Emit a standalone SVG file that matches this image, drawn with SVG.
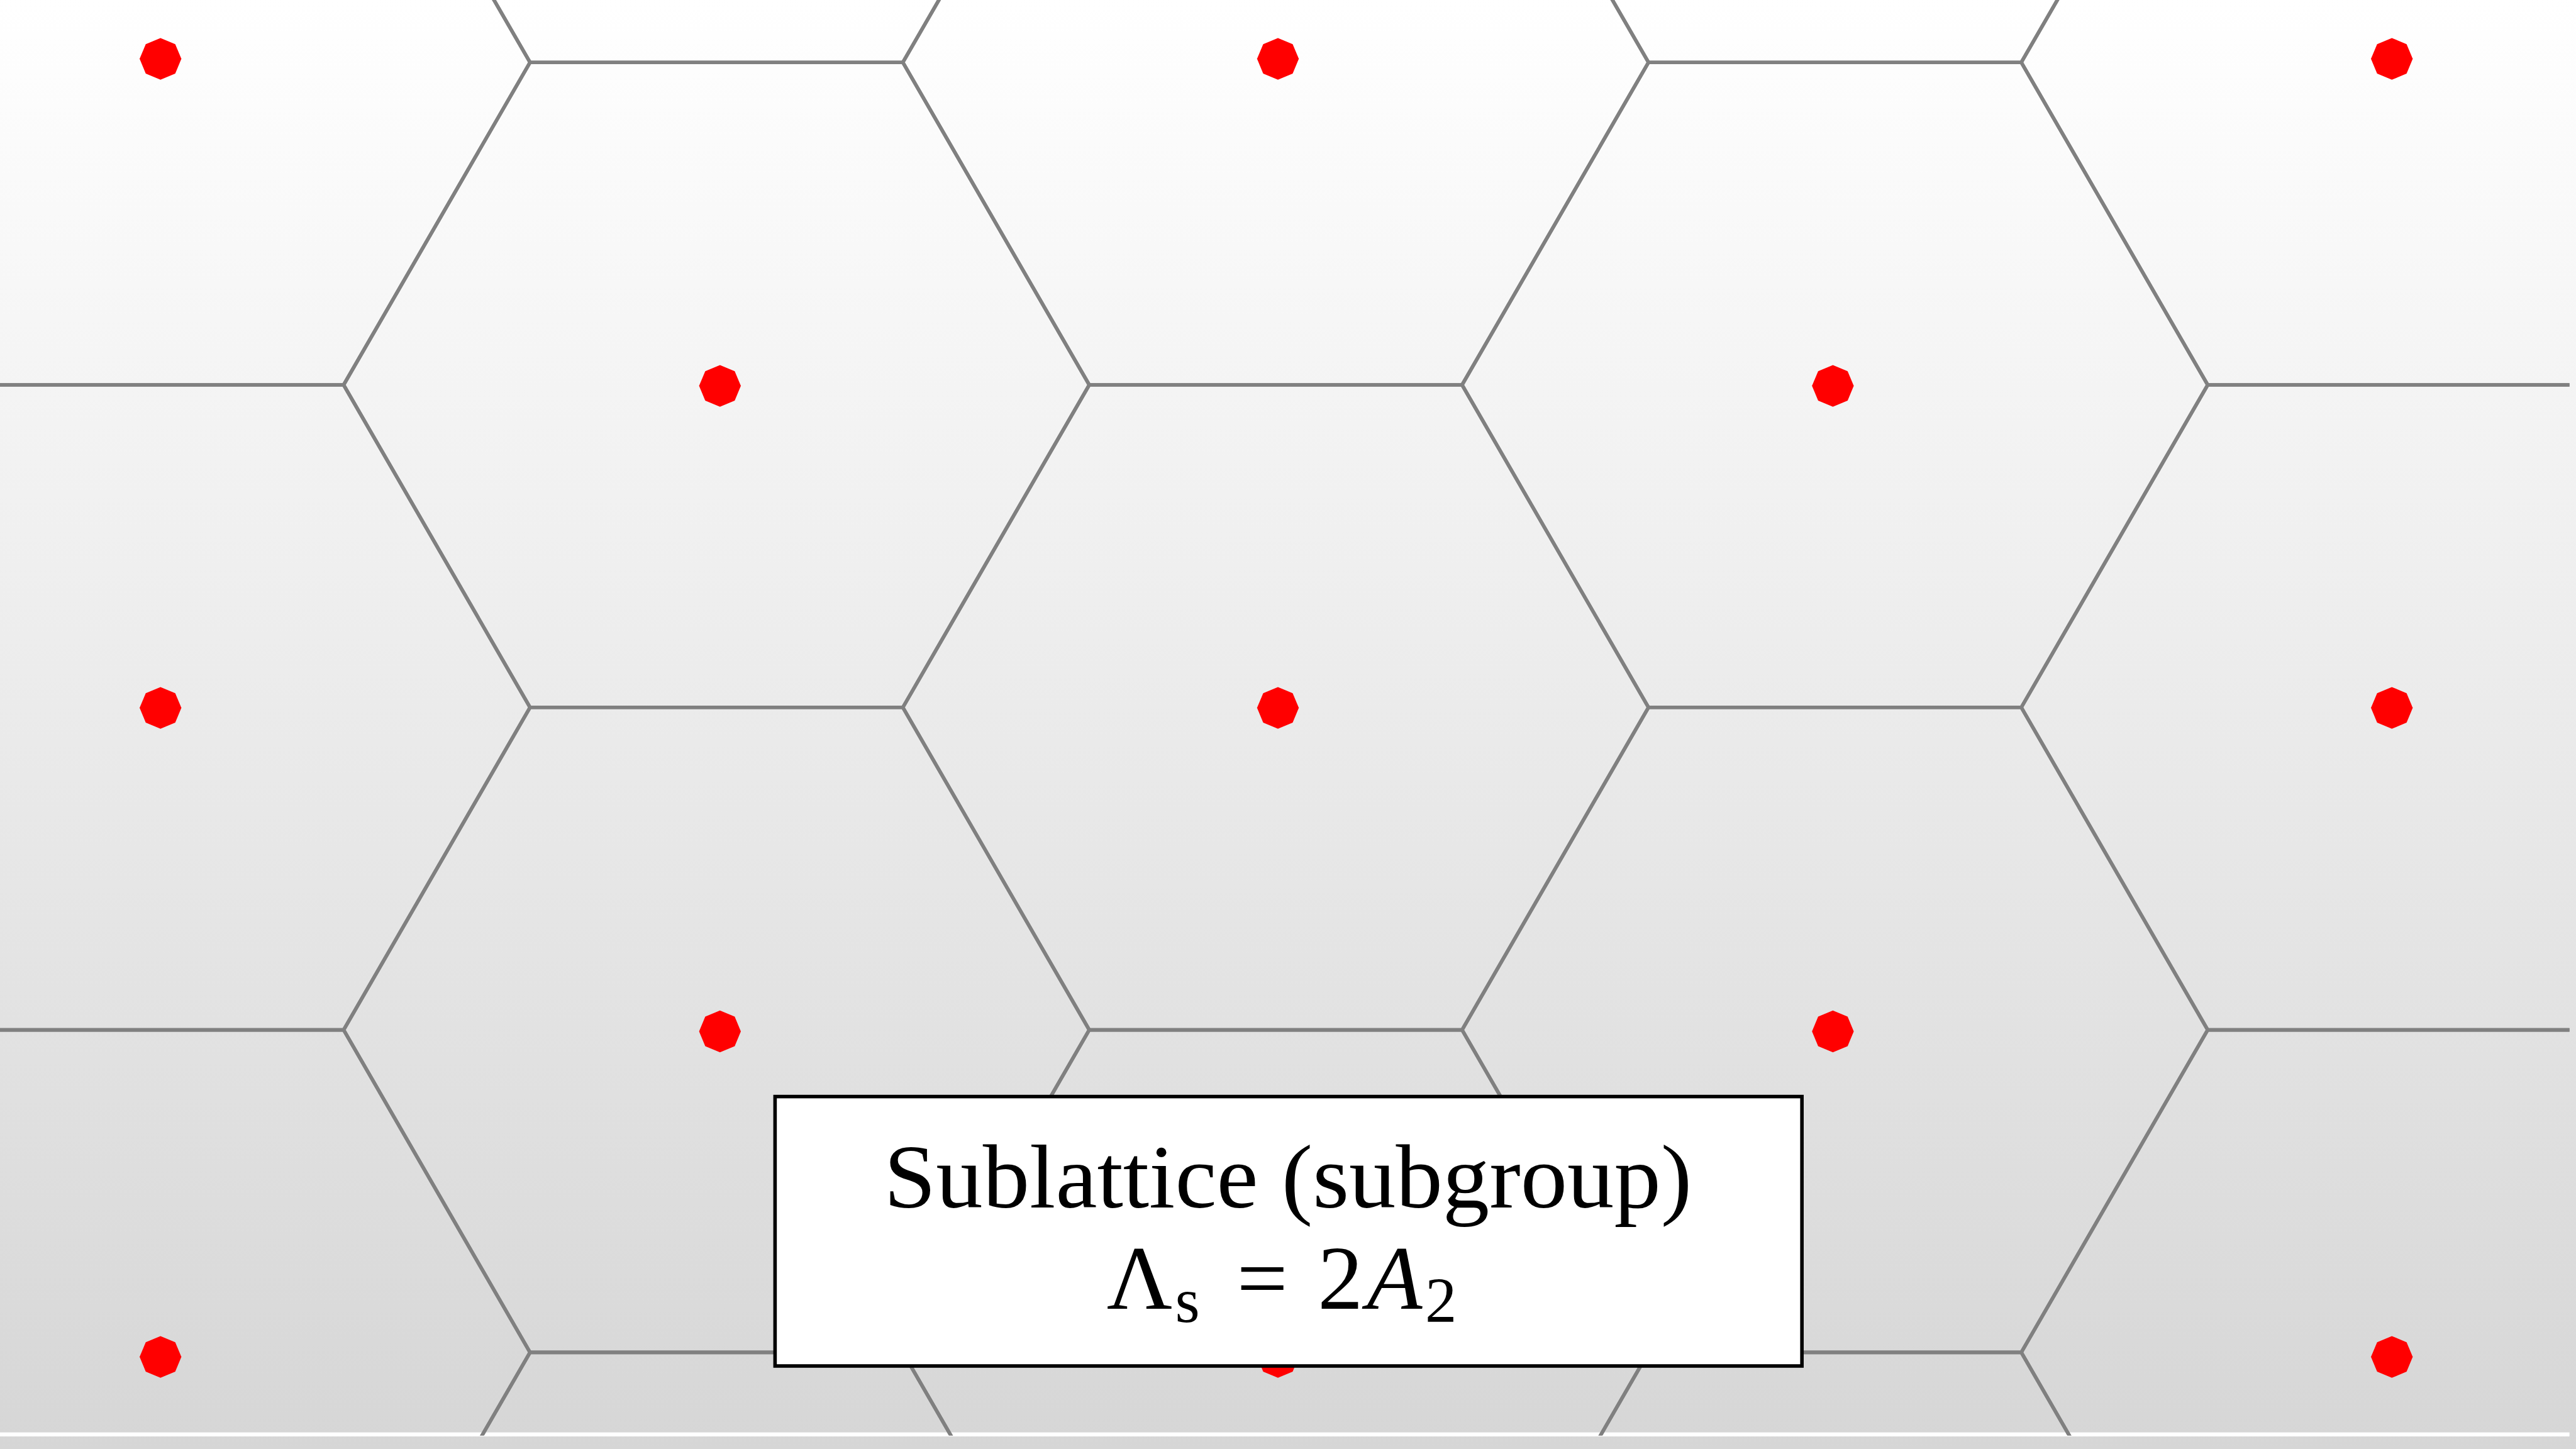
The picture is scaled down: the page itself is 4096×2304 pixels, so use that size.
<svg xmlns="http://www.w3.org/2000/svg" xmlns:xlink="http://www.w3.org/1999/xlink" width="4096" height="2304" viewBox="0 0 4096 2304">
<defs>
<linearGradient id="bg" gradientUnits="userSpaceOnUse" x1="0" y1="0" x2="0" y2="2880">
<stop offset="0" stop-color="#ffffff"/>
<stop offset="1" stop-color="#d6d6d6"/>
</linearGradient>
<clipPath id="clip"><rect x="0" y="0" width="5107" height="2853"/></clipPath>
<polygon id="hex" points="-741,0 -370.5,-641 370.5,-641 741,0 370.5,641 -370.5,641"/>
<polygon id="dot" points="41.5,0 29.3,29.3 0,41.5 -29.3,29.3 -41.5,0 -29.3,-29.3 0,-41.5 29.3,-29.3"/>
<style>
.cell{fill:none;stroke:#808080;stroke-width:7;stroke-linejoin:miter}
.pt{fill:#ff0000}
.lbl{font-family:"Liberation Serif","DejaVu Serif",serif;fill:#000000}
</style>
</defs>
<g transform="scale(0.8)">
<rect id="background" x="0" y="0" width="5120" height="2880" fill="url(#bg)"/>
<rect id="strip" x="0" y="2847" width="5107" height="8" fill="#ffffff"/>
<g id="cells" clip-path="url(#clip)">
<use xlink:href="#hex" class="cell" x="312.5" y="124"/>
<use xlink:href="#hex" class="cell" x="312.5" y="1406"/>
<use xlink:href="#hex" class="cell" x="312.5" y="2688"/>
<use xlink:href="#hex" class="cell" x="1424" y="-517"/>
<use xlink:href="#hex" class="cell" x="1424" y="765"/>
<use xlink:href="#hex" class="cell" x="1424" y="2047"/>
<use xlink:href="#hex" class="cell" x="1424" y="3329"/>
<use xlink:href="#hex" class="cell" x="2535.5" y="124"/>
<use xlink:href="#hex" class="cell" x="2535.5" y="1406"/>
<use xlink:href="#hex" class="cell" x="2535.5" y="2688"/>
<use xlink:href="#hex" class="cell" x="3647" y="-517"/>
<use xlink:href="#hex" class="cell" x="3647" y="765"/>
<use xlink:href="#hex" class="cell" x="3647" y="2047"/>
<use xlink:href="#hex" class="cell" x="3647" y="3329"/>
<use xlink:href="#hex" class="cell" x="4758.5" y="124"/>
<use xlink:href="#hex" class="cell" x="4758.5" y="1406"/>
<use xlink:href="#hex" class="cell" x="4758.5" y="2688"/>
</g>
<g id="points">
<use xlink:href="#dot" class="pt" x="319" y="117"/>
<use xlink:href="#dot" class="pt" x="319" y="1407"/>
<use xlink:href="#dot" class="pt" x="319" y="2697"/>
<use xlink:href="#dot" class="pt" x="1431" y="767"/>
<use xlink:href="#dot" class="pt" x="1431" y="2050"/>
<use xlink:href="#dot" class="pt" x="2540" y="117"/>
<use xlink:href="#dot" class="pt" x="2540" y="1407"/>
<use xlink:href="#dot" class="pt" x="2540" y="2697"/>
<use xlink:href="#dot" class="pt" x="3643" y="767"/>
<use xlink:href="#dot" class="pt" x="3643" y="2050"/>
<use xlink:href="#dot" class="pt" x="4754" y="117"/>
<use xlink:href="#dot" class="pt" x="4754" y="1407"/>
<use xlink:href="#dot" class="pt" x="4754" y="2697"/>
</g>
<g id="label">
<rect x="1540.5" y="2179.5" width="2041" height="535.5" fill="#ffffff" stroke="#000000" stroke-width="7"/>
<text class="lbl" x="2560" y="2400" font-size="180" text-anchor="middle" textLength="1606" lengthAdjust="spacingAndGlyphs">Sublattice (subgroup)</text>
<text class="lbl" x="2265" y="2601" font-size="180" text-anchor="middle">Λ</text>
<text class="lbl" x="2360" y="2627" font-size="126" text-anchor="middle">s</text>
<text class="lbl" x="2509" y="2601" font-size="180" text-anchor="middle">=</text>
<text class="lbl" x="2664" y="2601" font-size="180" text-anchor="middle">2</text>
<text class="lbl" x="2772" y="2601" font-size="180" font-style="italic" text-anchor="middle">A</text>
<text class="lbl" x="2864" y="2627" font-size="126" text-anchor="middle">2</text>
</g>
</g>
</svg>
